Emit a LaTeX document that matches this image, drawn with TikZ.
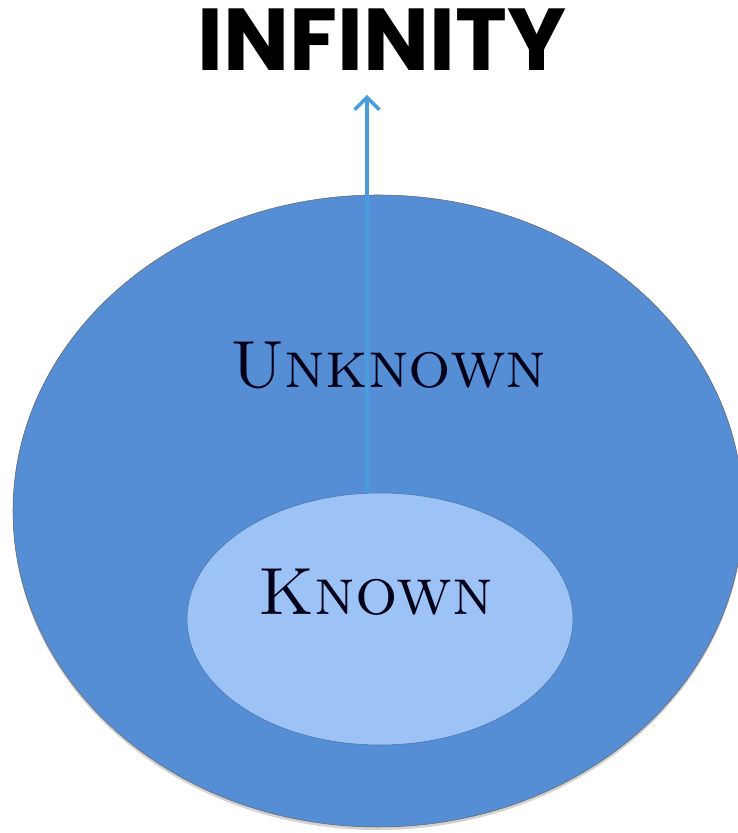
\documentclass[tikz,border=0pt]{standalone}
\usepackage{fontspec}
\usepackage{tikz}
\usetikzlibrary{shapes.geometric,arrows.meta}
\newfontfamily\titlefont{Poppins}[UprightFont=* Bold]
\definecolor{outerblue}{HTML}{558ED5}
\definecolor{innerblue}{HTML}{9DC3F6}
\definecolor{arrowblue}{HTML}{4A9DDC}

\begin{document}
\begin{tikzpicture}
\tikzset{region/.style={ellipse,inner sep=0pt},
	label/.style={font=\fontsize{38}{44}\selectfont\scshape,text=black!90!blue}}
\useasboundingbox (0,0) rectangle (14.74,16.66);
% the unknown
\fill [black!35,opacity=0.5] (7.56,6.38) ellipse (7.3 and 6.32);
\node [region,fill=outerblue,draw=black!60,line width=0.3pt,minimum width=14.6cm,minimum height=12.64cm] (unknown) at (7.56,6.44) {};
% the known
\node [region,fill=innerblue,draw=outerblue!80!black,line width=0.3pt,minimum width=7.72cm,minimum height=5.04cm] (known) at (7.6,4.28) {};
\node [label] (unknowntext) at (7.77,9.36) {Unknown};
\node [label] (knowntext) at (7.52,4.82) {Known};
% infinity
\node [font=\titlefont\fontsize{50}{56}\selectfont] (infinity) at (7.64,15.86) {INFINITY};
\coordinate (base) at (7.34,6.8);
\coordinate (tip) at (7.34,14.76);
\draw [arrowblue,line width=2pt,-{Straight Barb[length=7pt,width=14pt]}] (base) -- (tip);
\end{tikzpicture}
\end{document}
